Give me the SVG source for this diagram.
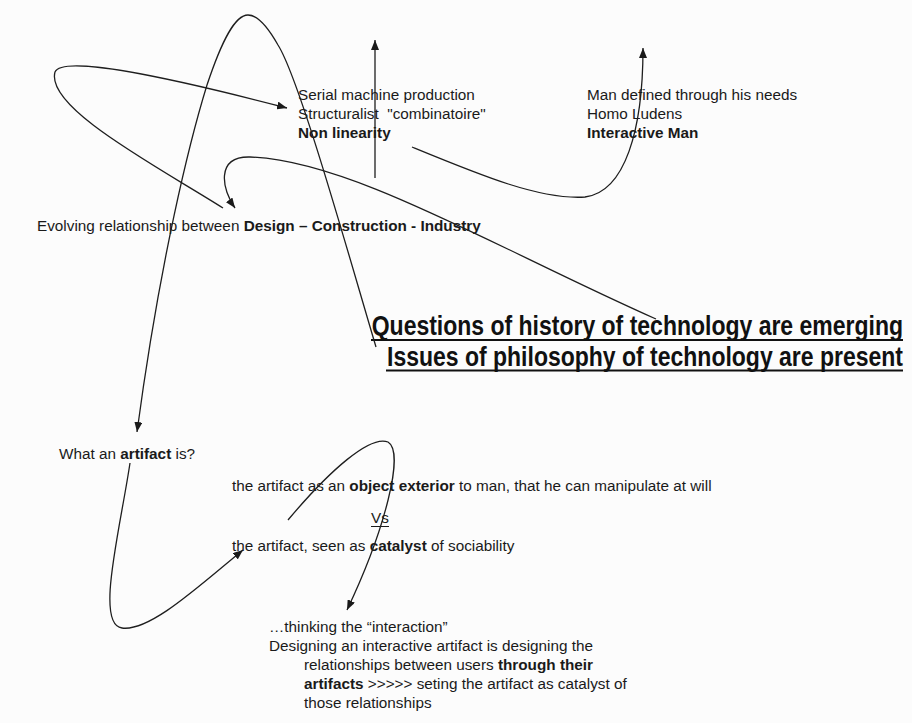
<svg xmlns="http://www.w3.org/2000/svg" width="912" height="723" viewBox="0 0 912 723">
<defs>
<marker id="ah" markerUnits="userSpaceOnUse" markerWidth="10" markerHeight="8" refX="10" refY="4" orient="auto">
<path d="M0,0 L10,4 L0,8 z" fill="#1a1a1a"/>
</marker>
<style>
.t{font-family:"Liberation Sans",Arial,sans-serif;font-size:15.3px;fill:#1a1a1a}
.b{font-weight:bold}
.h{font-family:"Liberation Sans",Arial,sans-serif;font-size:23px;font-weight:bold;fill:#111}
.c{fill:none;stroke:#1e1e1e;stroke-width:1.3}
.u{stroke:#111;stroke-width:2}
</style>
</defs>
<rect width="912" height="723" fill="#fcfcfc"/>

<g id="node-serial">
<text class="t" x="298" y="100">Serial machine production</text>
<text class="t" x="298" y="119" style="white-space:pre">Structuralist  "combinatoire"</text>
<text class="t b" x="298" y="138">Non linearity</text>
</g>

<g id="node-man">
<text class="t" x="587" y="100">Man defined through his needs</text>
<text class="t" x="587" y="119">Homo Ludens</text>
<text class="t b" x="587" y="138">Interactive Man</text>
</g>

<g id="node-evolving">
<text class="t" x="37" y="231">Evolving relationship between <tspan class="b">Design – Construction - Industry</tspan></text>
</g>

<g id="node-questions">
<text class="h" text-anchor="end" transform="translate(903,335) scale(1,1.17)">Questions of history of technology are emerging</text>
<line class="u" x1="371" y1="340" x2="903" y2="340"/>
<text class="h" text-anchor="end" transform="translate(903,365.5) scale(1,1.17)">Issues of philosophy of technology are present</text>
<line class="u" x1="386" y1="370.5" x2="903" y2="370.5"/>
</g>

<g id="node-artifact">
<text class="t" x="59" y="459">What an <tspan class="b">artifact</tspan> is?</text>
</g>

<g id="node-exterior">
<text class="t" x="232" y="491">the artifact as an <tspan class="b">object exterior</tspan> to man, that he can manipulate at will</text>
</g>

<g id="node-vs">
<text class="t" x="371" y="523">Vs</text>
<line x1="371" y1="526.5" x2="389" y2="526.5" stroke="#1a1a1a" stroke-width="1"/>
</g>

<g id="node-catalyst">
<text class="t" x="232" y="551">the artifact, seen as <tspan class="b">catalyst</tspan> of sociability</text>
</g>

<g id="node-interaction">
<text class="t" x="269" y="632">…thinking the “interaction”</text>
<text class="t" x="269" y="651">Designing an interactive artifact is designing the</text>
<text class="t" x="304" y="670">relationships between users <tspan class="b">through their</tspan></text>
<text class="t" x="304" y="689"><tspan class="b">artifacts</tspan> &gt;&gt;&gt;&gt;&gt; seting the artifact as catalyst of</text>
<text class="t" x="304" y="708">those relationships</text>
</g>

<g id="connectors">
<path class="c" d="M376,347 C 350,260 300,80 278,45 C 265,22 255,15 248,15 C 235,15 222,40 207,85 C 190,140 160,260 137,432" marker-end="url(#ah)"/>
<path class="c" d="M223,208 C 160,168 45,108 55,72 C 62,55 160,75 287,108" marker-end="url(#ah)"/>
<path class="c" d="M412,147 C 480,175 540,200 585,197 C 625,192 643,130 643,48" marker-end="url(#ah)"/>
<path class="c" d="M375,178 L375,40" marker-end="url(#ah)"/>
<path class="c" d="M656,319 C 500,250 350,160 250,157 C 215,156 222,190 235,208" marker-end="url(#ah)"/>
<path class="c" d="M130,463 C 120,530 95,625 122,628 C 150,632 200,585 243,550" marker-end="url(#ah)"/>
<path class="c" d="M288,520 C 330,470 370,435 388,442 C 405,452 385,530 347,610" marker-end="url(#ah)"/>
</g>
</svg>
